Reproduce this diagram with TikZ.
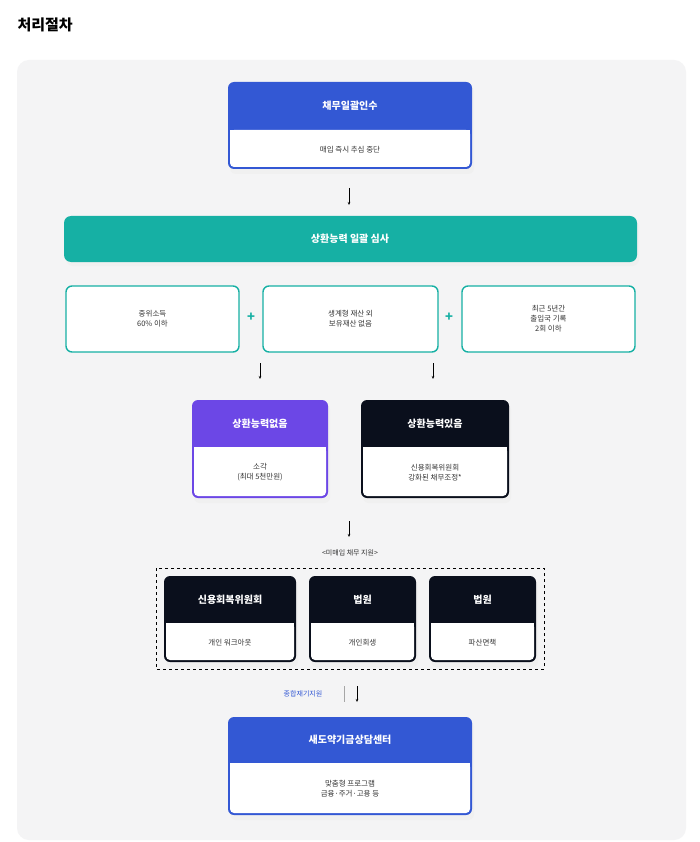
\documentclass[tikz,border=0pt]{standalone}
\usepackage{fontspec}
\setmainfont{Noto Sans CJK KR}
\usetikzlibrary{arrows.meta}
\definecolor{cblue}{HTML}{3358D4}
\definecolor{cteal}{HTML}{16B0A4}
\definecolor{cpurp}{HTML}{6C47E6}
\definecolor{cdark}{HTML}{0A0F1C}
\definecolor{cbg}{HTML}{F4F4F5}
\tikzset{
  x=1pt,y=-1pt,
  hdr/.style={font=\bfseries\fontsize{10}{12}\selectfont,text=white},
  bod/.style={font=\fontsize{7.5}{10}\selectfont,align=center,text=black!80},
  arr/.style={-{Stealth[length=3pt,width=2.5pt]},line width=0.6pt},
}
% card: #1 name, #2 x1, #3 y1, #4 x2, #5 y2, #6 header bottom, #7 colour, #8 title, #9 body
\newcommand{\mycard}[9]{%
  \fill[black!6,rounded corners=6pt] (#2+2,#3+4) rectangle (#4+2,#5+5);
  \fill[#7,rounded corners=6pt] (#2,#3) rectangle (#4,#5);
  \fill[white,rounded corners=4pt] (#2+2,#6) rectangle (#4-2,#5-2);
  \fill[white] (#2+2,#6) rectangle (#4-2,#6+6);
  \node[hdr] (#1h) at ({(#2+#4)/2},{(#3+#6)/2}) {#8};
  \node[bod] (#1) at ({(#2+#4)/2},{(#6+#5)/2}) {#9};
  \coordinate (#1t) at ({(#2+#4)/2},#3);
  \coordinate (#1b) at ({(#2+#4)/2},#5);
}
\begin{document}
\begin{tikzpicture}
\useasboundingbox (0,0) rectangle (700,842);
\fill[white] (0,0) rectangle (700,842);
\node[anchor=west,font=\bfseries\fontsize{15}{18}\selectfont] (title) at (14,25) {처리절차};
\fill[cbg,rounded corners=12pt] (17,60) rectangle (686,840);
\mycard{a}{228}{82}{472}{169}{130}{cblue}{채무일괄인수}{매입 즉시 추심 중단}
\coordinate (a1) at (349,188); \coordinate (a2) at (349,205);
\draw[arr] (a1) -- (a2);
\fill[black!6,rounded corners=7pt] (66,220) rectangle (639,266);
\fill[cteal,rounded corners=7pt] (64,216) rectangle (637,262);
\node[hdr] (s) at (350,239) {상환능력 일괄 심사};
\foreach \n/\xa/\xb/\t in {c1/66/239/{중위소득\\60\% 이하},c2/263/438/{생계형 재산 외\\보유재산 없음},c3/462/635/{최근 5년간\\출입국 기록\\2회 이하}}{
  \draw[cteal,line width=1.4pt,fill=white,rounded corners=6pt] (\xa,286) rectangle (\xb,352);
  \node[bod] (\n) at ({(\xa+\xb)/2},319) {\t};
}
\node[text=cteal,font=\bfseries\fontsize{13}{13}\selectfont] (p1) at (251,317) {+};
\node[text=cteal,font=\bfseries\fontsize{13}{13}\selectfont] (p2) at (449,317) {+};
\coordinate (b1) at (260,363); \coordinate (b2) at (260,379);
\coordinate (b3) at (433,363); \coordinate (b4) at (433,379);
\draw[arr] (b1) -- (b2); \draw[arr] (b3) -- (b4);
\mycard{d}{192}{400}{328}{498}{447}{cpurp}{상환능력없음}{소각\\(최대 5천만원)}
\mycard{e}{361}{400}{509}{498}{447}{cdark}{상환능력있음}{신용회복위원회\\강화된 채무조정*}
\coordinate (f1) at (349,521); \coordinate (f2) at (349,537);
\draw[arr] (f1) -- (f2);
\node[bod,font=\fontsize{7}{8}\selectfont] (lab) at (350,553) {<미매입 채무 지원>};
\draw[dashed,line width=0.7pt] (156,568) rectangle (544,669);
\mycard{g}{164}{576}{296}{662}{623}{cdark}{신용회복위원회}{개인 워크아웃}
\mycard{h}{309}{576}{416}{662}{623}{cdark}{법원}{개인회생}
\mycard{i}{429}{576}{536}{662}{623}{cdark}{법원}{파산면책}
\node[text=cblue,font=\fontsize{7}{8}\selectfont] (j) at (303,694) {종합재기지원};
\coordinate (k1) at (344,686); \coordinate (k2) at (344,702);
\draw[black!35,line width=0.8pt] (k1) -- (k2);
\coordinate (k3) at (357,686); \coordinate (k4) at (357,702);
\draw[arr] (k3) -- (k4);
\mycard{l}{228}{717}{472}{815}{763}{cblue}{새도약기금상담센터}{맞춤형 프로그램\\금융·주거·고용 등}
\end{tikzpicture}
\end{document}
